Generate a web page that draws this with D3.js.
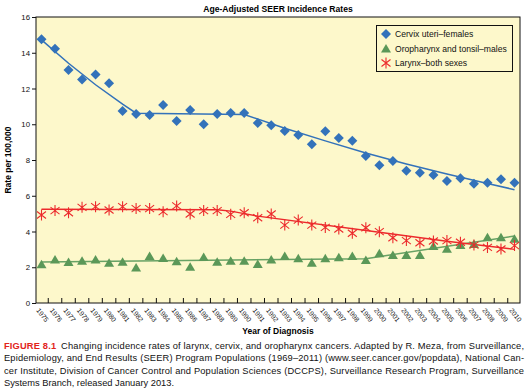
<!DOCTYPE html>
<html>
<head>
<meta charset="utf-8">
<script src="https://cdn.jsdelivr.net/npm/d3@7"></script>
<style>
  body { margin: 0; background: #fff; }
  svg { display: block; font-family: "Liberation Sans", Arial, sans-serif; }
</style>
</head>
<body>
<svg id="chart" width="528" height="392"></svg>
<script>
// values
var years = d3.range(1975, 2011)

var cervix = [14.75, 14.23, 13.03, 12.51, 12.79, 12.29, 10.74, 10.57, 10.52, 11.08,
    10.18, 10.8, 10.0, 10.57, 10.63, 10.63, 10.07, 9.94, 9.62, 9.4,
    8.88, 9.61, 9.23, 9.08, 8.22, 7.7, 7.94, 7.4, 7.29, 7.16,
    6.83, 6.98, 6.67, 6.73, 6.92, 6.73]

var oropharynx = [2.17, 2.44, 2.29, 2.37, 2.44, 2.25, 2.31, 1.98, 2.63, 2.52,
    2.33, 2.03, 2.57, 2.31, 2.37, 2.37, 2.18, 2.44, 2.63, 2.5,
    2.25, 2.5, 2.56, 2.63, 2.41, 2.78, 2.69, 2.69, 2.69, 3.19,
    3.04, 3.24, 3.3, 3.68, 3.68, 3.6]

var larynx = [4.92, 5.17, 5.05, 5.35, 5.39, 5.2, 5.39, 5.28, 5.28, 5.11,
    5.43, 4.98, 5.17, 5.17, 4.96, 5.05, 4.77, 4.98, 4.36, 4.64,
    4.36, 4.23, 4.14, 3.9, 4.21, 3.99, 3.65, 3.49, 3.37, 3.47,
    3.49, 3.4, 3.24, 3.11, 3.02, 3.21]

// fitted trend lines (joinpoint fits), read at a few years
var cervixTrend = [[1975, 14.72], [1977, 13.41], [1979, 12.21], [1981, 11.12], [1982, 10.62],
    [1990, 10.55], [1993, 9.78], [1996, 9.07], [1999, 8.39], [2002, 7.78],
    [2005, 7.22], [2008, 6.69], [2010, 6.34]]
var oroTrend = [[1975, 2.29], [1999, 2.48], [2010, 3.75]]
var larynxTrend = [[1975, 5.24], [1988, 5.22], [1989, 5.14], [1990, 5.0], [1991, 4.86],
    [2000, 3.96], [2005, 3.45], [2010, 3.0]]

var yTicks = [0, 2, 4, 6, 8, 10, 12, 14, 16]
var seriesNames = ["Cervix uteri\u2013females", "Oropharynx and tonsil\u2013males", "Larynx\u2013both sexes"]

var captionLines = [
    "Changing incidence rates of larynx, cervix, and oropharynx cancers. Adapted by R. Meza, from Surveillance,",
    "Epidemiology, and End Results (SEER) Program Populations (1969\u20132011) (www.seer.cancer.gov/popdata), National Can-",
    "cer Institute, Division of Cancer Control and Population Sciences (DCCPS), Surveillance Research Program, Surveillance",
    "Systems Branch, released January 2013."
]

var BLUE = "#3372ba", GREEN = "#5b9858", RED = "#ec2a2c"

var svg = d3.select("#chart")
var plotL = 36, plotR = 520, plotT = 17, plotB = 303

var x = d3.scalePoint().domain(years).range([41.5, 514.5])
var step = x.step()
var y = d3.scaleLinear().domain([0, 16]).range([plotB, plotT])

// plot background + frame
svg.append("rect")
    .attr("x", plotL).attr("y", plotT)
    .attr("width", plotR - plotL).attr("height", plotB - plotT)
    .attr("fill", "#fdf8cb")
    .attr("stroke", "#111").attr("stroke-width", 1)

// title
svg.append("text")
    .attr("x", (plotL + plotR) / 2).attr("y", 11.5)
    .attr("text-anchor", "middle")
    .attr("font-size", 8.6).attr("font-weight", "bold")
    .text("Age-Adjusted SEER Incidence Rates")

// y axis
var yAxis = svg.append("g").attr("transform", "translate(" + plotL + ",0)")
    .call(d3.axisLeft(y).tickValues(yTicks).tickSize(4).tickPadding(2))
yAxis.select(".domain").remove()
yAxis.selectAll("text").attr("font-size", 7.8).attr("font-family", "Liberation Sans, Arial, sans-serif").attr("fill", "#111")
yAxis.selectAll("line").attr("stroke", "#111")

svg.append("text")
    .attr("transform", "translate(11," + ((plotT + plotB) / 2) + ") rotate(-90)")
    .attr("text-anchor", "middle")
    .attr("font-size", 8.5).attr("font-weight", "bold")
    .text("Rate per 100,000")

// x ticks (between the years, pointing inward)
var xg = svg.append("g")
xg.selectAll("line.xtick")
    .data(years.slice(0, -1))
    .enter().append("line")
    .attr("class", "xtick")
    .attr("x1", function(d) { return x(d) + step / 2 })
    .attr("x2", function(d) { return x(d) + step / 2 })
    .attr("y1", plotB).attr("y2", plotB - 5)
    .attr("stroke", "#111")

xg.selectAll("text.xlab")
    .data(years)
    .enter().append("text")
    .attr("class", "xlab")
    .attr("transform", function(d) { return "translate(" + (x(d) - 5.5) + "," + (plotB + 7.5) + ") rotate(52)" })
    .attr("font-size", 6.8)
    .attr("fill", "#111")
    .text(function(d) { return d })

svg.append("text")
    .attr("x", (plotL + plotR) / 2).attr("y", 334)
    .attr("text-anchor", "middle")
    .attr("font-size", 8.5).attr("font-weight", "bold")
    .text("Year of Diagnosis")

// trend lines
var line = d3.line()
    .x(function(d) { return x(d[0]) })
    .y(function(d) { return y(d[1]) })

var trends = [[cervixTrend, BLUE], [oroTrend, "#68a265"], [larynxTrend, RED]]
trends.forEach(function(t) {
    svg.append("path")
        .datum(t[0])
        .attr("d", line)
        .attr("fill", "none")
        .attr("stroke", t[1])
        .attr("stroke-width", 1.5)
})

// markers
function diamond(g, color) {
    g.append("path").attr("d", "M0,-5L5,0L0,5L-5,0Z").attr("fill", color)
}
function triangle(g, color) {
    g.append("path").attr("d", "M0,-4.5L5,4L-5,4Z").attr("fill", color)
}
function asterisk(g, color) {
    g.append("path")
        .attr("d", "M0,-5.5L0,5.5M-4.5,-3.5L4.5,3.5M-4.5,3.5L4.5,-3.5")
        .attr("stroke", color).attr("stroke-width", 1.1).attr("fill", "none")
}

function drawSeries(values, cls, drawer, color) {
    svg.selectAll("g." + cls)
        .data(values)
        .enter().append("g")
        .attr("class", cls)
        .attr("transform", function(d, i) { return "translate(" + x(years[i]) + "," + y(d) + ")" })
        .each(function() { drawer(d3.select(this), color) })
}

drawSeries(cervix, "cervix", diamond, BLUE)
drawSeries(oropharynx, "oro", triangle, GREEN)
drawSeries(larynx, "larynx", asterisk, RED)

// legend
var lg = svg.append("g")
lg.append("rect")
    .attr("x", 376.5).attr("y", 25.5).attr("width", 136).attr("height", 46)
    .attr("fill", "#fdf8cb").attr("stroke", "#111").attr("stroke-width", 1)
var drawers = [diamond, triangle, asterisk]
var colors = [BLUE, GREEN, RED]
seriesNames.forEach(function(name, i) {
    var cy = 34 + i * 14.5
    var g = lg.append("g").attr("transform", "translate(386," + cy + ")")
    drawers[i](g, colors[i])
    lg.append("text")
        .attr("x", 395).attr("y", cy + 3)
        .attr("font-size", 8.6)
        .attr("fill", "#111")
        .text(name)
})

// caption
var cap = svg.append("g")
captionLines.forEach(function(txt, i) {
    var t = cap.append("text")
        .attr("x", 4).attr("y", 349 + i * 12.4)
        .attr("font-size", 9.3)
        .attr("fill", "#111")
    if (i == 0) {
        t.append("tspan").attr("fill", "#e2231a").attr("font-weight", "bold").text("FIGURE 8.1")
        t.append("tspan").text("\u2002" + txt)
    } else {
        t.text(txt)
    }
    if (i < 3) {
        t.attr("textLength", 520).attr("lengthAdjust", "spacing")
    }
})
</script>
</body>
</html>
